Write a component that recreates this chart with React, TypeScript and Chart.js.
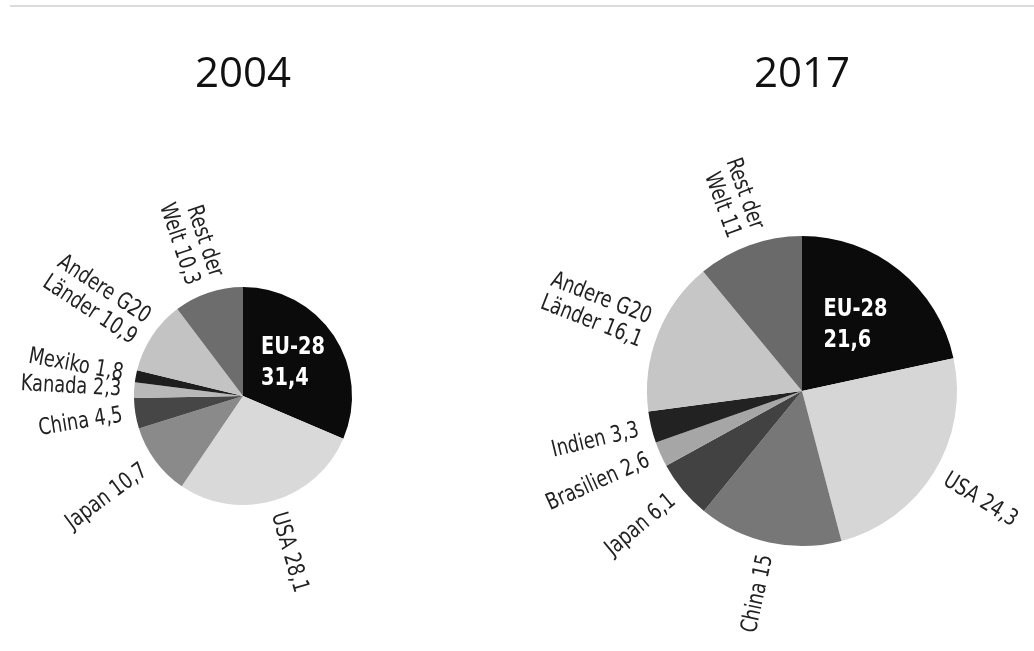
import React, { useEffect, useRef } from "react";
import { Chart, registerables } from "chart.js";

Chart.register(...registerables);

// ---------- data ----------
const years = ["2004", "2017"];

const categories2004 = ["EU-28", "USA", "Japan", "China", "Kanada", "Mexiko", "Andere G20\nLänder", "Rest der\nWelt"];
const values2004 = [31.4, 28.1, 10.7, 4.5, 2.3, 1.8, 10.9, 10.3];
const colors2004 = ["#0b0b0b", "#d9d9d9", "#8a8a8a", "#464646", "#b8b8b8", "#1e1e1e", "#c3c3c3", "#6d6d6d"];

const categories2017 = ["EU-28", "USA", "China", "Japan", "Brasilien", "Indien", "Andere G20\nLänder", "Rest der\nWelt"];
const values2017 = [21.6, 24.3, 15, 6.1, 2.6, 3.3, 16.1, 11];
const colors2017 = ["#0b0b0b", "#d6d6d6", "#777777", "#424242", "#a6a6a6", "#222222", "#c6c6c6", "#6a6a6a"];

const W = 1034;
const H = 651;

const LABEL_FAMILY = "'DejaVu Sans Condensed', 'Liberation Sans Narrow', 'Noto Sans', sans-serif";
const SQUEEZE = 0.86;

const fmt = (v: number) => String(v).replace(".", ",");

const radialLabels = {
  id: "radialLabels",
  afterDatasetsDraw(chart: any, _args: any, opts: any) {
    const ctx: CanvasRenderingContext2D = chart.ctx;
    const meta = chart.getDatasetMeta(0);
    const labels = chart.data.labels as string[];
    const values = chart.data.datasets[0].data as number[];
    ctx.save();
    let cx = 0;
    meta.data.forEach((arc: any, i: number) => {
      const p = arc.getProps(["x", "y", "startAngle", "endAngle", "outerRadius"], true);
      cx = p.x;
      const mid = (p.startAngle + p.endAngle) / 2;
      if (i === 0) {
        // inside label
        const lines = [labels[i], fmt(values[i])];
        ctx.save();
        ctx.font = "bold 25px " + LABEL_FAMILY;
        ctx.fillStyle = "#ffffff";
        ctx.textAlign = "left";
        ctx.textBaseline = "middle";
        const maxW = Math.max(...lines.map((l) => ctx.measureText(l).width)) * SQUEEZE;
        const ax = p.x + Math.cos(mid) * p.outerRadius * 0.55;
        const ay = p.y + Math.sin(mid) * p.outerRadius * 0.55;
        const lh = 31;
        ctx.translate(ax - maxW / 2, ay);
        ctx.scale(SQUEEZE, 1);
        lines.forEach((l, k) => {
          ctx.fillText(l, 0, (k - (lines.length - 1) / 2) * lh);
        });
        ctx.restore();
        return;
      }
      const parts = labels[i].split("\n");
      parts[parts.length - 1] = parts[parts.length - 1] + " " + fmt(values[i]);
      const gap = 13;
      const ax = p.x + Math.cos(mid) * (p.outerRadius + gap);
      const ay = p.y + Math.sin(mid) * (p.outerRadius + gap);
      const rightSide = Math.cos(mid) >= 0;
      ctx.save();
      ctx.translate(ax, ay);
      ctx.rotate(rightSide ? mid : mid + Math.PI);
      ctx.scale(SQUEEZE, 1);
      ctx.font = "23px " + LABEL_FAMILY;
      ctx.fillStyle = "#222222";
      ctx.textAlign = rightSide ? "left" : "right";
      ctx.textBaseline = "middle";
      const lh = 25;
      parts.forEach((l, k) => {
        ctx.fillText(l, 0, (k - (parts.length - 1) / 2) * lh);
      });
      ctx.restore();
    });
    // title
    ctx.font = "42px 'Open Sans', 'Noto Sans', sans-serif";
    ctx.fillStyle = "#111111";
    ctx.textAlign = "center";
    ctx.textBaseline = "alphabetic";
    ctx.fillText(opts.title, cx, 87);
    ctx.restore();
  },
};

function PieCanvas(props: {
  title: string;
  labels: string[];
  values: number[];
  colors: string[];
  padding: { left: number; right: number; top: number; bottom: number };
}) {
  const ref = useRef<HTMLCanvasElement | null>(null);
  useEffect(() => {
    if (!ref.current) return;
    const chart = new Chart(ref.current, {
      type: "pie",
      data: {
        labels: props.labels,
        datasets: [
          {
            data: props.values,
            backgroundColor: props.colors,
            borderWidth: 0,
            hoverOffset: 0,
          },
        ],
      },
      options: {
        responsive: false,
        animation: false,
        devicePixelRatio: 1,
        layout: { padding: props.padding },
        events: [],
        plugins: {
          legend: { display: false },
          tooltip: { enabled: false },
          radialLabels: { title: props.title },
        } as any,
      },
      plugins: [radialLabels as any],
    });
    return () => chart.destroy();
  }, []);
  return (
    <canvas
      ref={ref}
      width={W}
      height={H}
      style={{ position: "absolute", left: 0, top: 0, width: W, height: H }}
    />
  );
}

export default function App() {
  useEffect(() => {
    document.body.style.margin = "0";
    document.body.style.background = "#ffffff";
  }, []);
  return (
    <div style={{ position: "relative", width: W, height: H, background: "#fff", overflow: "hidden" }}>
      <div style={{ position: "absolute", left: 10, top: 5, width: W - 10, height: 2, background: "#dcdcdc" }} />
      <PieCanvas
        title={years[0]}
        labels={categories2004}
        values={values2004}
        colors={colors2004}
        padding={{ left: 134, right: W - 352, top: 287, bottom: H - 505 }}
      />
      <PieCanvas
        title={years[1]}
        labels={categories2017}
        values={values2017}
        colors={colors2017}
        padding={{ left: 647, right: W - 957, top: 236, bottom: H - 546 }}
      />
    </div>
  );
}
